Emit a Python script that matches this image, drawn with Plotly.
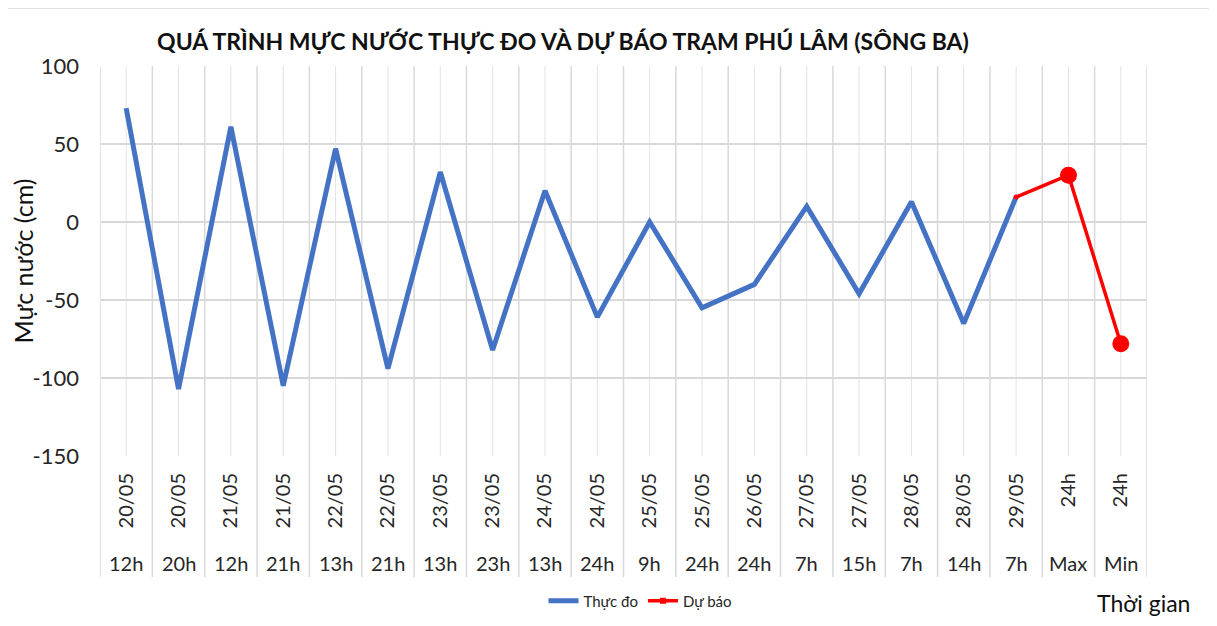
import plotly.graph_objects as go

dates = ["20/05", "20/05", "21/05", "21/05", "22/05", "22/05", "23/05", "23/05",
         "24/05", "24/05", "25/05", "25/05", "26/05", "27/05", "27/05", "28/05",
         "28/05", "29/05", "24h", "24h"]
hours = ["12h", "20h", "12h", "21h", "13h", "21h", "13h", "23h", "13h", "24h",
         "9h", "24h", "24h", "7h", "15h", "7h", "14h", "7h", "Max", "Min"]
categories = [f"{d} {h}" for d, h in zip(dates, hours)]

observed = [73, -107, 61, -105, 47, -94, 32, -82, 20, -61,
            0, -55, -40, 10, -46, 13, -65, 16]
forecast = [16, 30, -78]

y_ticks = [100, 50, 0, -50, -100, -150]
y_ticktext = ["100", "50", "0", "-50", "-100", "-150"]

obs_x = categories[:len(observed)]
fc_x = categories[len(observed) - 1:]

BLUE = "#4472C4"
RED = "#FF0000"
GRID = "#D9D9D9"
FONT = "Lato"
TXT = "#262626"

# page body has an 8px margin; figure coordinates = screen coordinates - 8
W, H = 1201, 610
PL, PR, PT, PB = 92, 1139, 58, 448  # plot area in figure coords


def py(screen_y):
    """screen y -> paper y"""
    return (PB - (screen_y - 8)) / (PB - PT)


def px(screen_x):
    return ((screen_x - 8) - PL) / (PR - PL)


fig = go.Figure()
fig.add_trace(go.Scatter(x=obs_x, y=observed, mode="lines", name="Thực đo",
                         line=dict(color=BLUE, width=5)))
fig.add_trace(go.Scatter(x=fc_x, y=forecast, mode="lines+markers", name="Dự báo",
                         line=dict(color=RED, width=3.5),
                         marker=dict(color=RED, size=[5, 17, 17], symbol="circle",
                                     opacity=1, line=dict(width=0)),
                         showlegend=False))
fig.add_trace(go.Scatter(x=[None], y=[None], mode="lines+markers", name="Dự báo",
                         line=dict(color=RED, width=3.5),
                         marker=dict(color=RED, size=6, symbol="square", line=dict(width=0))))

n = len(categories)
shapes = []
for i in range(n):
    shapes.append(dict(type="line", xref="x", yref="paper", x0=i, x1=i, y0=0, y1=1,
                       line=dict(color="#E3E3E3", width=1), layer="below"))
for i in range(n + 1):
    shapes.append(dict(type="line", xref="x", yref="paper", x0=i - 0.5, x1=i - 0.5,
                       y0=py(577), y1=1, line=dict(color=GRID, width=1.5), layer="below"))
shapes.append(dict(type="rect", xref="paper", yref="paper",
                   x0=px(5), x1=px(1214), y0=py(660), y1=py(8),
                   line=dict(color="#D9D9D9", width=1.5), layer="below"))

annotations = []
for c, h in zip(categories, hours):
    annotations.append(dict(x=c, xref="x", y=py(563), yref="paper",
                            text=h, showarrow=False, xanchor="center", yanchor="middle",
                            font=dict(family=FONT, size=20, color=TXT)))
annotations.append(dict(x=px(1143), xref="paper", y=py(603), yref="paper",
                        text="Thời gian", showarrow=False, xanchor="center", yanchor="middle",
                        font=dict(family=FONT, size=23, color="#111")))

fig.update_layout(
    width=W, height=H,
    margin=dict(l=PL, r=W - PR, t=PT, b=H - PB, autoexpand=False),
    paper_bgcolor="white", plot_bgcolor="white",
    title=dict(text="<b>QUÁ TRÌNH MỰC NƯỚC THỰC ĐO VÀ DỰ BÁO TRẠM PHÚ LÂM (SÔNG BA)</b>",
               x=(563 - 8) / W, xanchor="center", y=1 - (42 - 8) / H, yanchor="middle",
               font=dict(family=FONT, size=23, color="#111")),
    xaxis=dict(type="category", categoryorder="array", categoryarray=categories,
               tickvals=categories, ticktext=dates, tickangle=-90,
               range=[-0.5, n - 0.5], showgrid=False, zeroline=False, automargin=False,
               showline=False, ticks="", ticklabelstandoff=12,
               tickfont=dict(family=FONT, size=20, color=TXT)),
    yaxis=dict(range=[-150, 100], tickvals=y_ticks, ticktext=y_ticktext,
               showgrid=True, gridcolor=GRID, gridwidth=1.5, automargin=False,
               zeroline=False, showline=False, ticks="", ticklabelstandoff=20,
               tickfont=dict(family=FONT, size=22, color=TXT),
               title=dict(text="Mực nước (cm)", standoff=8,
                          font=dict(family=FONT, size=25, color="#111"))),
    legend=dict(orientation="h", x=px(640), xanchor="center", y=py(601),
                yanchor="middle", font=dict(family=FONT, size=15, color=TXT)),
    shapes=shapes, annotations=annotations,
)

fig.write_html("out.html")
